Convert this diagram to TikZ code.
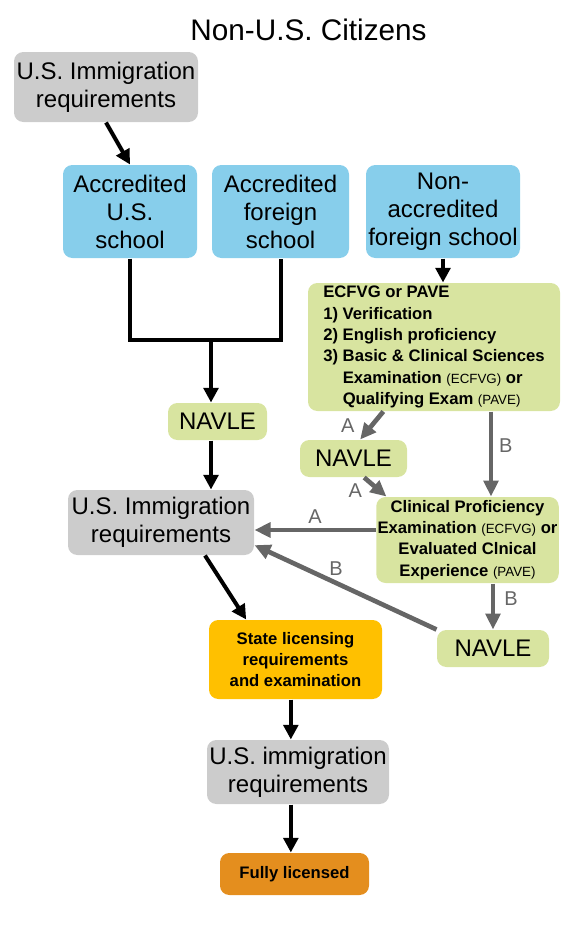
\documentclass[tikz,border=0pt]{standalone}
\usepackage{fontspec}
\setmainfont{Liberation Sans}
\usetikzlibrary{arrows.meta}

\definecolor{immgray}{RGB}{204,204,204}
\definecolor{schoolblue}{RGB}{135,206,235}
\definecolor{examgreen}{RGB}{216,228,160}
\definecolor{stateorange}{RGB}{255,192,0}
\definecolor{doneorange}{RGB}{228,142,30}
\definecolor{pathgray}{RGB}{102,102,102}

\newcommand{\progtag}[1]{{\fontsize{10}{12}\selectfont\mdseries #1}}

\tikzset{every picture/.style={line width=0.75pt}}
\tikzset{
  box/.style={rounded corners=7pt, align=center, inner sep=1pt},
  bigtxt/.style={font=\fontsize{18}{21}\selectfont},
  boldtxt/.style={font=\fontsize{12.5}{16}\selectfont\bfseries},
  blk/.style={line width=3pt, -{Triangle[length=11pt,width=11pt]}},
  gry/.style={draw=pathgray, line width=3.5pt, -{Triangle[length=12pt,width=11pt]}},
  lbl/.style={text=pathgray, font=\fontsize{15}{15}\selectfont, inner sep=0pt},
}

\begin{document}
\begin{tikzpicture}[x=0.75pt,y=0.75pt,yscale=-1,xscale=1]
\useasboundingbox (0,0) rectangle (576,936);

% Title
\node[font=\fontsize{22.3}{26}\selectfont] (title) at (308.5,30) {Non-U.S. Citizens};

% Schools
\node[box, bigtxt, fill=immgray, minimum width=138pt, minimum height=52.5pt] (imm1) at (106,87) {U.S. Immigration\\requirements};
\node[box, bigtxt, fill=schoolblue, minimum width=100.5pt, minimum height=69.75pt] (usschool) at (130,211.5) {Accredited\\U.S.\\school};
\node[box, bigtxt, fill=schoolblue, minimum width=102.75pt, minimum height=69.75pt] (forschool) at (280.5,211.5) {Accredited\\foreign\\school};
\node[box, bigtxt, fill=schoolblue, minimum width=115.5pt, minimum height=69.75pt] (nonacc) at (443,211.5) {Non-\\accredited\\foreign school};

% ECFVG / PAVE branch
\node[box, boldtxt, align=left, fill=examgreen, minimum width=189pt, minimum height=96pt] (ecfvg) at (434,347) {ECFVG or PAVE\\1) Verification\\2) English proficiency\\3) Basic \& Clinical Sciences\\\phantom{3) }Examination \progtag{(ECFVG)} or\\\phantom{3) }Qualifying Exam \progtag{(PAVE)}};
\node[box, bigtxt, fill=examgreen, minimum width=74.25pt, minimum height=27.75pt] (navle1) at (217.5,421.5) {NAVLE};
\node[box, bigtxt, fill=examgreen, minimum width=80.25pt, minimum height=27.75pt] (navle2) at (353.5,458.5) {NAVLE};
\node[box, boldtxt, fill=examgreen, minimum width=135.75pt, minimum height=64.5pt] (clinical) at (467.5,540) {Clinical Proficiency\\Examination \progtag{(ECFVG)} or\\Evaluated Clnical\\Experience \progtag{(PAVE)}};
\node[box, bigtxt, fill=examgreen, minimum width=84pt, minimum height=27.75pt] (navle3) at (493,648.5) {NAVLE};

% Licensing
\node[box, bigtxt, fill=immgray, minimum width=139.5pt, minimum height=48.75pt] (imm2) at (161,522.5) {U.S. Immigration\\requirements};
\node[box, boldtxt, fill=stateorange, minimum width=129.75pt, minimum height=59.25pt] (state) at (295.5,659.5) {State licensing\\requirements\\and examination};
\node[box, bigtxt, fill=immgray, minimum width=136.5pt, minimum height=48pt] (imm3) at (298,772) {U.S. immigration\\requirements};
\node[box, boldtxt, fill=doneorange, minimum width=111.75pt, minimum height=31.5pt] (full) at (294.5,874) {Fully licensed};

% Black connectors
\coordinate (join) at (211,340);
\coordinate (mainline) at ([xshift=-3.5pt]state.south);
\draw[line width=3pt] (usschool.south) |- (join) -| (forschool.south);
\draw[blk] (imm1.south) -- (usschool.north);
\draw[blk] (join) -- (join |- navle1.north);
\draw[blk] (join |- navle1.south) -- (join |- imm2.north);
\draw[blk] ([xshift=33pt]imm2.south) -- ([xshift=-37pt]state.north);
\draw[blk] (mainline) -- (mainline |- imm3.north);
\draw[blk] (mainline |- imm3.south) -- (mainline |- full.north);
\draw[blk] (nonacc.south) -- (nonacc.south |- ecfvg.north);

% Gray connectors, paths A and B
\coordinate (bdown) at ([xshift=42.75pt]ecfvg.south);
\coordinate (aleft) at ([yshift=-7.5pt]clinical.west);
\draw[gry] ([xshift=-38pt]ecfvg.south) -- ([xshift=5pt]navle2.north) node[lbl, midway, xshift=-18pt] {A};
\draw[gry] (bdown) -- (bdown |- clinical.north) node[lbl, midway, xshift=11pt, yshift=6pt] {B};
\draw[gry] ([xshift=8pt]navle2.south) -- ([xshift=8pt]clinical.north west) node[lbl, midway, xshift=-15pt, yshift=-3pt] {A};
\draw[gry] (aleft) -- (aleft -| imm2.east) node[lbl, midway, yshift=10pt] {A};
\draw[gry] (navle3.north |- clinical.south) -- (navle3.north) node[lbl, midway, xshift=13.5pt, yshift=6pt] {B};
\draw[gry] (navle3.north west) -- ([yshift=17pt]imm2.east) node[lbl, midway, xshift=-7pt, yshift=14pt] {B};
\end{tikzpicture}
\end{document}
